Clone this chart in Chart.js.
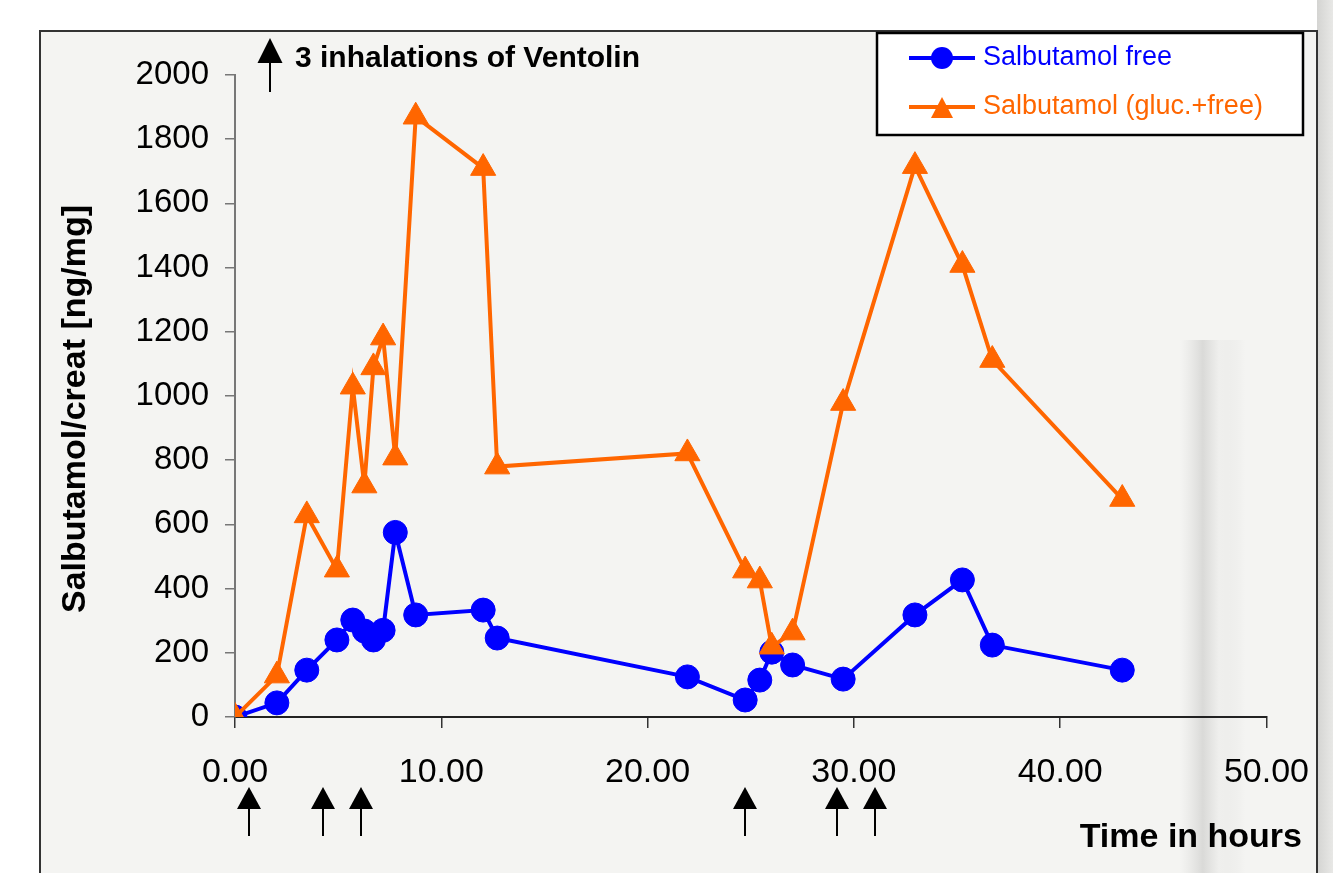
<!DOCTYPE html>
<html><head><meta charset="utf-8">
<script src="https://cdn.jsdelivr.net/npm/chart.js@4/dist/chart.umd.min.js"></script>
<style>html,body{margin:0;padding:0;background:#fff;overflow:hidden}canvas{display:block}</style>
</head><body>
<canvas id="c" width="1333" height="873"></canvas>
<script>
// ---- data ----
const times = [0, 2.03, 3.48, 4.94, 5.71, 6.27, 6.71, 7.18, 7.77, 8.76, 12.03, 12.71, 21.93, 24.73, 25.44, 26.02, 27.03, 29.48, 32.96, 35.26, 36.71, 43.01];
const freeValues = [0, 44, 146, 240, 302, 268, 240, 270, 575, 318, 333, 246, 125, 53, 115, 202, 162, 118, 318, 427, 224, 146];
const totalValues = [0, 129, 628, 459, 1029, 721, 1089, 1182, 808, 1870, 1710, 780, 821, 456, 425, 219, 263, 978, 1716, 1408, 1112, 679];
const doseTimes = [0.68, 4.26, 6.11, 24.72, 29.17, 31.0];
const xTickValues = [0, 10, 20, 30, 40, 50];
const yTickValues = [0, 200, 400, 600, 800, 1000, 1200, 1400, 1600, 1800, 2000];
const seriesLabels = ['Salbutamol free', 'Salbutamol (gluc.+free)'];
const axisTitles = { x: 'Time in hours', y: 'Salbutamol/creat [ng/mg]' };
const noteText = '3 inhalations of Ventolin';

const FONT = '"Liberation Sans", Arial, Helvetica, sans-serif';
const BLUE = '#0000ff';
const ORANGE = '#ff6600';

function arrow(ctx, x, yTop, headH, headW, yBottom) {
  ctx.save();
  ctx.fillStyle = '#000';
  ctx.strokeStyle = '#000';
  ctx.lineWidth = 2;
  ctx.beginPath();
  ctx.moveTo(x, yTop + headH - 1);
  ctx.lineTo(x, yBottom);
  ctx.stroke();
  ctx.beginPath();
  ctx.moveTo(x, yTop);
  ctx.lineTo(x + headW / 2, yTop + headH);
  ctx.lineTo(x - headW / 2, yTop + headH);
  ctx.closePath();
  ctx.fill();
  ctx.restore();
}

const bgPlugin = {
  id: 'bg',
  beforeDraw(chart) {
    const ctx = chart.ctx;
    ctx.save();
    ctx.fillStyle = '#ffffff';
    ctx.fillRect(0, 0, 1333, 873);
    ctx.fillStyle = '#f4f4f2';
    ctx.fillRect(40, 31, 1277, 842);
    // photo-like shading on the right
    let g = ctx.createLinearGradient(0, 320, 0, 420);
    g.addColorStop(0, 'rgba(0,0,0,0)');
    g.addColorStop(1, 'rgba(0,0,0,1)');
    let h = ctx.createLinearGradient(1180, 0, 1245, 0);
    h.addColorStop(0, 'rgba(215,215,213,0)');
    h.addColorStop(0.35, 'rgba(200,200,198,0.6)');
    h.addColorStop(0.6, 'rgba(236,236,234,0.6)');
    h.addColorStop(1, 'rgba(215,215,213,0)');
    ctx.fillStyle = h;
    ctx.fillRect(1180, 340, 65, 533);
    g = ctx.createLinearGradient(1317, 0, 1333, 0);
    g.addColorStop(0, '#d4d4d2');
    g.addColorStop(1, '#e8e8e6');
    ctx.fillStyle = g;
    ctx.fillRect(1317, 0, 16, 873);
    // frame
    ctx.strokeStyle = '#333';
    ctx.lineWidth = 2;
    ctx.beginPath();
    ctx.moveTo(40, 873); ctx.lineTo(40, 31); ctx.lineTo(1317, 31); ctx.lineTo(1317, 873);
    ctx.stroke();
    ctx.restore();
  }
};

const annotPlugin = {
  id: 'annot',
  afterDraw(chart) {
    const ctx = chart.ctx;
    const xs = chart.scales.x;
    ctx.save();
    // dose arrows
    doseTimes.forEach(t => arrow(ctx, Math.round(xs.getPixelForValue(t)), 787, 22, 24, 836));
    // note
    arrow(ctx, 270, 38, 25, 25, 92);
    ctx.fillStyle = '#000';
    ctx.font = 'bold 30px ' + FONT;
    ctx.textBaseline = 'middle';
    ctx.textAlign = 'left';
    ctx.fillText(noteText, 295, 59);
    // axis titles
    ctx.font = 'bold 34px ' + FONT;
    ctx.textAlign = 'right';
    ctx.fillText(axisTitles.x, 1302, 838);
    ctx.save();
    ctx.translate(76, 409);
    ctx.rotate(-Math.PI / 2);
    ctx.textAlign = 'center';
    ctx.fillText(axisTitles.y, 0, 0);
    ctx.restore();
    // legend
    ctx.fillStyle = '#ffffff';
    ctx.fillRect(877, 33, 426, 102);
    ctx.strokeStyle = '#000';
    ctx.lineWidth = 2.5;
    ctx.strokeRect(877, 33, 426, 102);
    const entries = [
      { label: seriesLabels[0], color: BLUE, y: 58, shape: 'circle' },
      { label: seriesLabels[1], color: ORANGE, y: 107, shape: 'triangle' }
    ];
    entries.forEach(e => {
      ctx.strokeStyle = e.color;
      ctx.fillStyle = e.color;
      ctx.lineWidth = 4;
      ctx.beginPath();
      ctx.moveTo(909, e.y); ctx.lineTo(975, e.y);
      ctx.stroke();
      ctx.beginPath();
      if (e.shape === 'circle') {
        ctx.arc(942, e.y, 11, 0, Math.PI * 2);
      } else {
        ctx.moveTo(942, e.y - 10);
        ctx.lineTo(953, e.y + 11);
        ctx.lineTo(931, e.y + 11);
        ctx.closePath();
      }
      ctx.fill();
      ctx.font = '27px ' + FONT;
      ctx.textAlign = 'left';
      ctx.textBaseline = 'middle';
      ctx.fillText(e.label, 983, e.y);
    });
    ctx.restore();
  }
};

const toXY = vals => times.map((t, i) => ({ x: t, y: vals[i] }));

new Chart(document.getElementById('c'), {
  type: 'line',
  data: {
    datasets: [
      {
        label: seriesLabels[0], data: toXY(freeValues), order: 1,
        borderColor: BLUE, backgroundColor: BLUE, borderWidth: 4,
        pointStyle: 'circle', pointRadius: 12, pointBorderWidth: 1, pointBorderColor: BLUE, pointBackgroundColor: BLUE,
        tension: 0, fill: false
      },
      {
        label: seriesLabels[1], data: toXY(totalValues), order: 0,
        borderColor: ORANGE, backgroundColor: ORANGE, borderWidth: 4,
        pointStyle: 'triangle', pointRadius: 14.5, pointBorderWidth: 1, pointBorderColor: ORANGE, pointBackgroundColor: ORANGE,
        tension: 0, fill: false
      }
    ]
  },
  options: {
    responsive: false, animation: false, devicePixelRatio: 1,
    layout: { padding: { top: 75, right: 65, left: 0, bottom: 0 } },
    plugins: { legend: { display: false }, tooltip: { enabled: false } },
    scales: {
      x: {
        type: 'linear', position: 'bottom', min: 0, max: 50,
        afterBuildTicks: s => { s.ticks = xTickValues.map(v => ({ value: v })); },
        afterFit: s => { s.height = 156; },
        ticks: { color: '#000', font: { family: FONT, size: 34 }, padding: 24, maxRotation: 0,
          callback: v => Number(v).toFixed(2) },
        grid: { drawOnChartArea: false, drawTicks: true, tickLength: 11, color: '#333', lineWidth: 1.5 },
        border: { display: true, color: '#222', width: 2 }
      },
      y: {
        type: 'linear', position: 'left', min: 0, max: 2000,
        afterBuildTicks: s => { s.ticks = yTickValues.map(v => ({ value: v })); },
        afterFit: s => { s.width = 235; },
        ticks: { color: '#000', font: { family: FONT, size: 33 }, padding: 16,
          callback: v => String(v) },
        grid: { drawOnChartArea: false, drawTicks: true, tickLength: 10, color: '#777', lineWidth: 1.5 },
        border: { display: true, color: '#777', width: 2 }
      }
    }
  },
  plugins: [bgPlugin, annotPlugin]
});
</script>
</body></html>
